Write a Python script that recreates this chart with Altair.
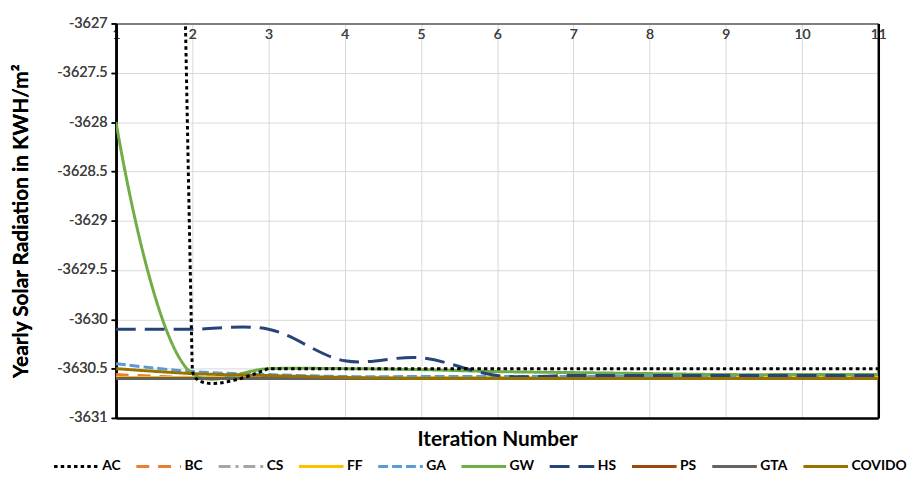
import altair as alt
import pandas as pd

iterations = list(range(1, 12))
series = ["AC", "BC", "CS", "FF", "GA", "GW", "HS", "PS", "GTA", "COVIDO"]

ac = [-3590.0, -3630.5, -3630.5, -3630.5, -3630.5, -3630.5, -3630.5, -3630.5, -3630.5, -3630.5, -3630.5]
bc = [-3630.56, -3630.59, -3630.6, -3630.6, -3630.6, -3630.6, -3630.6, -3630.6, -3630.6, -3630.6, -3630.6]
cs = [-3630.59, -3630.59, -3630.59, -3630.59, -3630.59, -3630.59, -3630.59, -3630.59, -3630.59, -3630.59, -3630.59]
ff = [-3630.59, -3630.59, -3630.59, -3630.59, -3630.59, -3630.59, -3630.59, -3630.59, -3630.59, -3630.59, -3630.59]
ga = [-3630.45, -3630.53, -3630.56, -3630.58, -3630.58, -3630.58, -3630.58, -3630.58, -3630.58, -3630.58, -3630.58]
gw = [-3628.0, -3630.55, -3630.5, -3630.5, -3630.51, -3630.53, -3630.54, -3630.55, -3630.56, -3630.56, -3630.56]
hs = [-3630.1, -3630.1, -3630.1, -3630.42, -3630.39, -3630.57, -3630.57, -3630.57, -3630.57, -3630.57, -3630.57]
ps = [-3630.6, -3630.6, -3630.6, -3630.6, -3630.6, -3630.6, -3630.6, -3630.6, -3630.6, -3630.6, -3630.6]
gta = [-3630.6, -3630.6, -3630.6, -3630.6, -3630.6, -3630.6, -3630.6, -3630.6, -3630.6, -3630.6, -3630.6]
covido = [-3630.5, -3630.55, -3630.57, -3630.59, -3630.6, -3630.6, -3630.6, -3630.6, -3630.6, -3630.6, -3630.6]

values = [ac, bc, cs, ff, ga, gw, hs, ps, gta, covido]
colors = ["#000000", "#ED7D31", "#A5A5A5", "#FFC000", "#5B9BD5", "#70AD47",
          "#264478", "#9E480E", "#636363", "#997300"]
dashes = [[3.5, 3.2], [13, 9], [12, 5, 3, 5], [1, 0], [10, 4], [1, 0],
          [20, 9], [1, 0], [1, 0], [1, 0]]

y_ticks = [-3631, -3630.5, -3630, -3629.5, -3629, -3628.5, -3628, -3627.5, -3627]
y_inner = y_ticks[1:-1]
x_inner = iterations[1:-1]

rows = []
for s, vals in zip(series, values):
    for i, v in zip(iterations, vals):
        rows.append({"series": s, "iteration": i, "value": v})
df = pd.DataFrame(rows)

FONT = "Lato"
xscale = alt.Scale(domain=[1, 11], nice=False, zero=False)
yscale = alt.Scale(domain=[-3631, -3627], nice=False, zero=False)

legend = alt.Legend(
    title=None, orient="none", legendX=-64, legendY=423, direction="horizontal",
    columns=10, columnPadding=9, symbolType="stroke", symbolSize=2025,
    symbolStrokeWidth=3, labelFontSize=14, labelFontWeight="bold",
    labelColor="#000000", labelFont=FONT, labelOffset=2, padding=0,
)

color_enc = alt.Color("series:N", scale=alt.Scale(domain=series, range=colors),
                      sort=series, legend=legend)
dash_enc = alt.StrokeDash("series:N", scale=alt.Scale(domain=series, range=dashes),
                          sort=series, legend=legend)

base = alt.Chart(df)

frame = base.mark_line(opacity=0, clip=True).encode(
    x=alt.X("iteration:Q", scale=xscale, axis=alt.Axis(
        orient="bottom", values=x_inner, grid=True, gridColor="#d9d9d9", gridWidth=1,
        labels=False, ticks=False, domainColor="#000000", domainWidth=2.5,
        title="Iteration Number", titleFontSize=21, titleFontWeight="bold",
        titleColor="#000000", titleFont=FONT, titleY=22, titleBaseline="middle")),
    y=alt.Y("value:Q", scale=yscale, axis=alt.Axis(
        orient="right", values=y_inner, grid=True, gridColor="#d9d9d9", gridWidth=1,
        labels=False, ticks=False, domainColor="#000000", domainWidth=2.5, title=None)),
    detail="series:N",
)

x_top = alt.X("iteration:Q", scale=xscale, axis=alt.Axis(
    orient="top", values=iterations, format="d", title=None, grid=False,
    ticks=False, labelPadding=-4, labelBaseline="top", labelFlush=False,
    labelFontSize=14, labelColor="#404040", labelFont=FONT,
    domainColor="#7f7f7f", domainWidth=2))
y_left = alt.Y("value:Q", scale=yscale, axis=alt.Axis(
    orient="left", values=y_ticks, grid=False, tickSize=5, tickColor="#000000",
    tickWidth=1.5, domainColor="#000000", domainWidth=2.5, labelPadding=4,
    labelFontSize=14.5, labelColor="#404040", labelFont=FONT,
    labelExpr="'-' + format(abs(datum.value), '.5~g')",
    title="Yearly Solar Radiation in KWH/m²", titleFontSize=21,
    titleFontWeight="bold", titleColor="#000000", titleFont=FONT,
    titleX=-95, titleY=199, titleBaseline="middle"))

others = base.transform_filter(alt.datum.series != "AC").mark_line(
    interpolate="catmull-rom", strokeWidth=3, clip=True
).encode(x=x_top, y=y_left, color=color_enc, strokeDash=dash_enc)

ac_line = base.transform_filter(alt.datum.series == "AC").mark_line(
    interpolate="cardinal", tension=0.95, strokeWidth=3, clip=True
).encode(x=x_top, y=y_left, color=color_enc, strokeDash=dash_enc)

chart = alt.layer(frame, others, ac_line).resolve_axis(
    x="independent", y="independent"
).properties(
    width=769, height=398,
    autosize=alt.AutoSizeParams(type="none"),
    padding={"left": 109, "top": 13.5, "right": 32, "bottom": 60},
).configure(font=FONT).configure_view(stroke=None)

chart.save("out.html", embed_options={"renderer": "svg", "actions": False})
